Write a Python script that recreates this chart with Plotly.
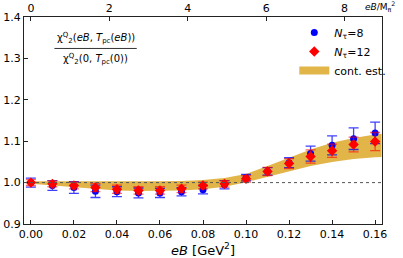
import plotly.graph_objects as go

eB = [0.00, 0.01, 0.02, 0.03, 0.04, 0.05, 0.06, 0.07, 0.08, 0.09, 0.10, 0.11, 0.12, 0.13, 0.14, 0.15, 0.16]

nt8_val = [1.000, 0.993, 0.988, 0.979, 0.978, 0.975, 0.975, 0.978, 0.983, 0.995, 1.012, 1.027, 1.048, 1.070, 1.090, 1.106, 1.120]
nt8_err = [0.011, 0.012, 0.014, 0.015, 0.012, 0.012, 0.011, 0.010, 0.010, 0.010, 0.008, 0.009, 0.012, 0.018, 0.023, 0.026, 0.026]

nt12_val = [1.000, 0.997, 0.993, 0.988, 0.984, 0.981, 0.981, 0.985, 0.993, 0.997, 1.009, 1.027, 1.046, 1.063, 1.077, 1.092, 1.099]
nt12_err = [0.007, 0.007, 0.008, 0.010, 0.010, 0.009, 0.009, 0.009, 0.008, 0.008, 0.008, 0.010, 0.012, 0.016, 0.016, 0.018, 0.022]

band_x = [0.00, 0.01, 0.02, 0.03, 0.04, 0.05, 0.06, 0.07, 0.08, 0.09, 0.10, 0.11, 0.12, 0.13, 0.14, 0.15, 0.16, 0.163]
band_hi = [1.003, 1.003, 1.002, 1.002, 1.002, 1.002, 1.003, 1.004, 1.006, 1.011, 1.021, 1.040, 1.060, 1.080, 1.096, 1.108, 1.116, 1.118]
band_lo = [0.997, 0.993, 0.988, 0.984, 0.981, 0.980, 0.980, 0.981, 0.984, 0.990, 1.001, 1.014, 1.027, 1.040, 1.050, 1.057, 1.061, 1.062]

M_pi2 = 0.135 ** 2  # GeV^2
x_range = [-0.0032, 0.1632]
y_range = [0.9, 1.4]
top_ticks = [0, 2, 4, 6, 8]
y_ticks = [0.9, 1.0, 1.1, 1.2, 1.3, 1.4]
x_ticks = [0.00, 0.02, 0.04, 0.06, 0.08, 0.10, 0.12, 0.14, 0.16]

FONT = "DejaVu Sans"
AX = "#222222"
BAND = "rgba(218,165,32,0.82)"

fig = go.Figure()

# continuum band
fig.add_trace(go.Scatter(x=band_x, y=band_lo, mode="lines", line=dict(width=0),
                         showlegend=False, hoverinfo="skip"))
fig.add_trace(go.Scatter(x=band_x, y=band_hi, mode="lines", line=dict(width=0),
                         fill="tonexty", fillcolor=BAND,
                         showlegend=False, hoverinfo="skip"))

fig.add_trace(go.Scatter(
    x=eB, y=nt8_val, mode="markers", name="<i>N</i><sub>τ</sub>=8",
    marker=dict(color="blue", size=7, symbol="circle"),
    error_y=dict(type="data", array=nt8_err, color="rgba(0,0,255,0.75)", thickness=1.3, width=5),
))
fig.add_trace(go.Scatter(
    x=eB, y=nt12_val, mode="markers", name="<i>N</i><sub>τ</sub>=12",
    marker=dict(color="red", size=8, symbol="diamond"),
    error_y=dict(type="data", array=nt12_err, color="rgba(255,0,0,0.6)", thickness=1.3, width=5),
))
# legend entry for band
fig.add_trace(go.Scatter(
    x=[None], y=[None], mode="lines", name="cont. est.",
    line=dict(color=BAND, width=8),
))
# invisible trace to carry the top axis
fig.add_trace(go.Scatter(
    x=[v / M_pi2 for v in eB], y=nt8_val, xaxis="x2", mode="markers",
    marker=dict(opacity=0), showlegend=False, hoverinfo="skip",
))

fig.add_shape(type="line", xref="paper", yref="y", x0=0, x1=1, y0=1.0, y1=1.0,
              line=dict(color="#555555", width=1, dash="dot"))
# fraction bar of the y-quantity label
fig.add_shape(type="line", xref="paper", yref="paper", x0=0.085, x1=0.315, y0=0.848, y1=0.848,
              line=dict(color="#333333", width=1))

fig.add_annotation(xref="paper", yref="paper", x=0.2, y=0.855, xanchor="center", yanchor="bottom",
                   showarrow=False,
                   text="χ<sup>Q</sup><sub>2</sub>(<i>eB</i>, <i>T</i><sub>pc</sub>(<i>eB</i>))",
                   font=dict(family=FONT, size=10, color="black"))
fig.add_annotation(xref="paper", yref="paper", x=0.2, y=0.842, xanchor="center", yanchor="top",
                   showarrow=False,
                   text="χ<sup>Q</sup><sub>2</sub>(0, <i>T</i><sub>pc</sub>(0))",
                   font=dict(family=FONT, size=10, color="black"))
fig.add_annotation(xref="paper", yref="paper", x=0.948, y=1.012, xanchor="left", yanchor="bottom",
                   showarrow=False, text="<i>eB</i>/M<sub>π</sub><sup>2</sup>",
                   font=dict(family=FONT, size=9, color="black"))

fig.update_layout(
    width=403, height=258,
    margin=dict(l=24, r=16, t=17, b=34),
    paper_bgcolor="white", plot_bgcolor="white",
    font=dict(family=FONT, size=11, color="black"),
    xaxis=dict(range=x_range, tickvals=x_ticks, ticktext=[f"{v:.2f}" for v in x_ticks],
               ticks="inside", ticklen=4, tickcolor=AX, showgrid=False, zeroline=False,
               showline=True, linecolor=AX, linewidth=1.2, mirror=False, automargin=False,
               title=dict(text="<i>eB</i> [GeV<sup>2</sup>]", font=dict(size=13), standoff=0)),
    xaxis2=dict(range=[v / M_pi2 for v in x_range], overlaying="x", side="top",
                tickvals=top_ticks, ticks="inside", ticklen=4, tickcolor=AX, automargin=False,
                showgrid=False, zeroline=False, showline=True, linecolor=AX, linewidth=1.2),
    yaxis=dict(range=y_range, tickvals=y_ticks, ticktext=[f"{v:.1f}" for v in y_ticks],
               ticks="inside", ticklen=4, tickcolor=AX, showgrid=False, zeroline=False,
               showline=True, linecolor=AX, linewidth=1.2, mirror=True, automargin=False),
    legend=dict(x=0.755, y=0.995, xanchor="left", yanchor="top", bgcolor="rgba(0,0,0,0)",
                font=dict(size=11), traceorder="normal", tracegroupgap=0, itemwidth=30),
    showlegend=True,
)

fig.write_html("out.html", config={"displayModeBar": False},
               post_script="document.body.style.margin='0';document.body.style.overflow='hidden';")
